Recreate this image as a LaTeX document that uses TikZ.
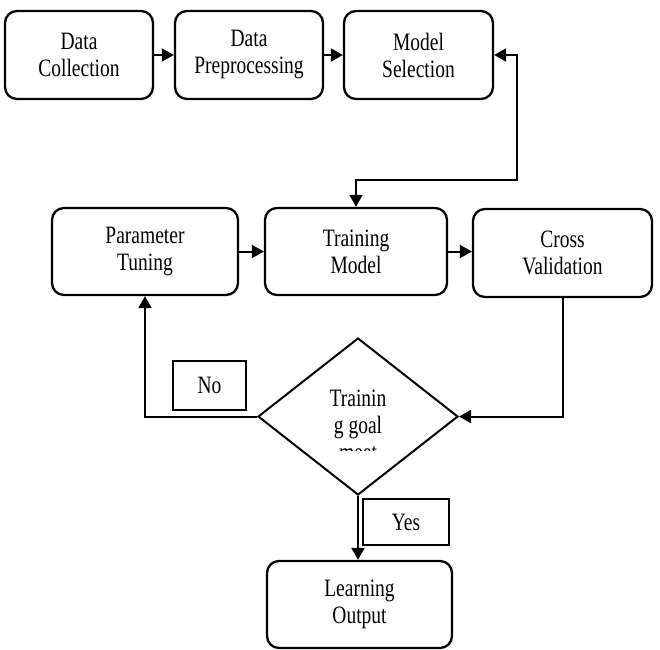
\documentclass[tikz,border=0pt]{standalone}
\usepackage{fontspec}
\setmainfont{Liberation Serif}[FakeStretch=0.78]
\usetikzlibrary{
    arrows.meta,
    shapes.geometric
}

\begin{document}
\begin{tikzpicture}[
    x=1pt,
    y=-1pt,
    >={Triangle[length=12pt,width=13pt]},
    box_style/.style={
        draw=black,
        line width=2.3pt,
        rounded corners=12pt,
        align=center,
        inner sep=0pt,
        minimum height=88pt,
        font=\fontsize{25}{27}\selectfont
    },
    label_style/.style={
        draw=black,
        line width=2pt,
        inner sep=0pt,
        font=\fontsize{25}{27}\selectfont
    },
    decision_style/.style={
        diamond,
        draw=black,
        line width=2pt,
        inner sep=0pt,
        minimum width=200pt,
        minimum height=157pt
    },
    edge_style/.style={
        draw=black,
        line width=2pt,
        ->
    }
]
\useasboundingbox (0,0) rectangle (660,649);

% --- Top row ---
\node[box_style, minimum width=148pt] (DC) at (79,55) {Data\\Collection};
\node[box_style, minimum width=148pt] (DP) at (249,55) {Data\\Preprocessing};
\node[box_style, minimum width=149pt] (MS) at (418.5,55) {Model\\Selection};

% --- Middle row ---
\node[box_style, minimum width=186pt, minimum height=87pt] (PT) at (145,251.5) {Parameter\\Tuning};
\node[box_style, minimum width=182pt, minimum height=87pt] (TM) at (356,251.5) {Training\\Model};
\node[box_style, minimum width=179pt] (CV) at (562.5,253) {Cross\\Validation};

% Decision, text cut off at the bottom as in the figure
\node[decision_style] (D) at (358,416.5) {};
\begin{scope}
    \clip (300,335) rectangle (420,450);
    \node[align=center, font=\fontsize{25}{27}\selectfont] (D_text) at (358,425) {Trainin\\g goal\\meet};
\end{scope}

% Branch labels
\node[label_style, minimum width=73pt, minimum height=49pt] (No) at (209.5,385.5) {No};
\node[label_style, minimum width=86pt, minimum height=46pt] (Yes) at (406,522) {Yes};

% Output
\node[box_style, minimum width=185pt, minimum height=87pt] (LO) at (359.5,604.5) {Learning\\Output};

\coordinate (loop) at (517,180);

% --- Edges ---
\draw[edge_style] (DC) -- (DP);
\draw[edge_style] (DP) -- (MS);
\draw[edge_style,<->] (TM.north) |- (loop) |- (MS.east);
\draw[edge_style] (PT) -- (TM);
\draw[edge_style] (TM.east) -- (CV.west |- TM.east);
\draw[edge_style] (CV.south) |- (D.east);
\draw[edge_style] (D.west) -| (PT.south);
\draw[edge_style] (D.south) -- (LO.north -| D.south);

\end{tikzpicture}
\end{document}
